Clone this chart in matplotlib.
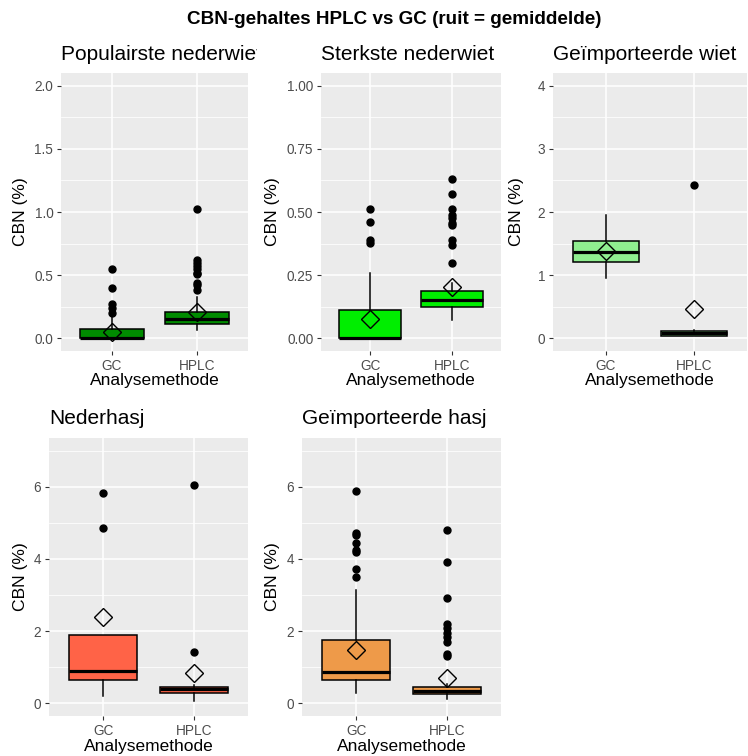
import matplotlib
matplotlib.use("Agg")
import matplotlib.pyplot as plt
from matplotlib.transforms import Bbox, TransformedBbox

plt.rcParams["font.family"] = ["Liberation Sans", "DejaVu Sans"]

# ---- data -------------------------------------------------------------
panel_titles = ["Populairste nederwiet", "Sterkste nederwiet", "Geïmporteerde wiet",
                "Nederhasj", "Geïmporteerde hasj"]
methods = ["GC", "HPLC"]
fills = ["#008B00", "#00EE00", "#90EE90", "#FF6347", "#EE9A49"]

# box statistics per panel: [GC, HPLC]
whislo = [[0.0, 0.066], [0.0, 0.072], [0.95, 0.03], [0.20, 0.07], [0.29, 0.11]]
q1 = [[0.0, 0.113], [0.0, 0.125], [1.21, 0.042], [0.66, 0.29], [0.66, 0.25]]
median = [[0.004, 0.155], [0.0, 0.151], [1.36, 0.08], [0.90, 0.39], [0.87, 0.34]]
q3 = [[0.071, 0.21], [0.112, 0.187], [1.54, 0.116], [1.88, 0.46], [1.75, 0.46]]
whishi = [[0.17, 0.33], [0.26, 0.22], [1.96, 0.13], [1.88, 0.52], [3.15, 0.55]]
mean = [[0.053, 0.21], [0.076, 0.204], [1.39, 0.46], [2.39, 0.85], [1.47, 0.69]]
outliers = [
    [[0.545, 0.40, 0.27, 0.24, 0.20],
     [1.02, 0.62, 0.60, 0.57, 0.545, 0.52, 0.51, 0.44, 0.42, 0.38]],
    [[0.51, 0.46, 0.388, 0.379],
     [0.63, 0.57, 0.51, 0.49, 0.476, 0.457, 0.45, 0.39, 0.371, 0.30]],
    [[], [2.43]],
    [[5.84, 4.85], [6.06, 1.43]],
    [[5.89, 4.71, 4.66, 4.43, 4.26, 4.20, 3.73, 3.50],
     [4.80, 3.91, 2.92, 2.21, 2.09, 1.95, 1.84, 1.70, 1.38, 1.32]],
]
y_upper = [2, 1, 4, 7, 7]
y_ticks = [[0, 0.5, 1.0, 1.5, 2.0], [0, 0.25, 0.5, 0.75, 1.0], [0, 1, 2, 3, 4],
           [0, 2, 4, 6], [0, 2, 4, 6]]
y_fmt = ["{:.1f}", "{:.2f}", "{:.0f}", "{:.0f}", "{:.0f}"]
y_minor = [[0.25, 0.75, 1.25, 1.75], [0.125, 0.375, 0.625, 0.875], [0.5, 1.5, 2.5, 3.5],
           [1, 3, 5, 7], [1, 3, 5, 7]]

# ---- layout (pixels) ----------------------------------------------------
W, H = 748, 756
fig = plt.figure(figsize=(W / 100, H / 100), dpi=100)
fig.patch.set_facecolor("white")

# panel rectangles: left, top, right, bottom
rects = [(61, 73, 248, 351), (321, 73, 501, 351), (553, 73, 747, 351),
         (49, 438, 248, 716), (302, 438, 501, 716)]
ylab_x = [20, 273, 517, 20, 273]
cell_right = [257, 506, 748, 257, 506]


def fx(x):
    return x / W


def fy(y):
    return 1 - y / H


fig.text(fx(394), fy(20), "CBN-gehaltes HPLC vs GC (ruit = gemiddelde)",
         ha="center", va="center", fontsize=13.6, fontweight="bold")

for i, (l, t, r, b) in enumerate(rects):
    ax = fig.add_axes([fx(l), fy(b), (r - l) / W, (b - t) / H])
    ax.set_facecolor("#EBEBEB")
    for s in ax.spines.values():
        s.set_visible(False)

    stats = []
    for j in range(2):
        stats.append(dict(med=median[i][j], q1=q1[i][j], q3=q3[i][j],
                          whislo=whislo[i][j], whishi=whishi[i][j],
                          fliers=outliers[i][j], label=methods[j]))
    bp = ax.bxp(stats, positions=[1, 2], widths=0.75, patch_artist=True,
                showcaps=False, showfliers=True,
                boxprops=dict(facecolor=fills[i], edgecolor="black", linewidth=1.1),
                medianprops=dict(color="black", linewidth=2.3, solid_capstyle="butt"),
                whiskerprops=dict(color="black", linewidth=1.1),
                flierprops=dict(marker="o", markerfacecolor="black",
                                markeredgecolor="black", markersize=5))
    for k in range(2):
        bp["medians"][k].set_zorder(4)
    ax.plot([1, 2], mean[i], linestyle="none", marker="D", markersize=9.5,
            markerfacecolor="none", markeredgecolor="black", markeredgewidth=1.0,
            zorder=5)

    ymax = y_upper[i]
    ax.set_ylim(-0.05 * ymax, 1.05 * ymax)
    ax.set_xlim(0.4, 2.6)
    ax.set_yticks(y_ticks[i])
    ax.set_yticklabels([y_fmt[i].format(v) for v in y_ticks[i]])
    ax.set_yticks(y_minor[i], minor=True)
    ax.set_xticks([1, 2])
    ax.set_xticklabels(methods)
    ax.tick_params(axis="both", which="major", length=3, width=0.8, color="#333333",
                   labelcolor="#4D4D4D", labelsize=9.8, pad=2.5)
    ax.tick_params(axis="y", which="minor", length=0)
    ax.grid(True, which="major", color="white", linewidth=1.1)
    ax.grid(True, which="minor", axis="y", color="white", linewidth=0.55)
    ax.set_axisbelow(True)

    # panel title, clipped to its cell
    title_y = 60 if t < 200 else 424
    txt = fig.text(fx(l), fy(title_y), panel_titles[i], ha="left", va="baseline",
                   fontsize=15)
    txt.set_clip_box(TransformedBbox(Bbox.from_extents(0, 0, fx(cell_right[i]), 1),
                                     fig.transFigure))
    txt.set_clip_on(True)

    fig.text(fx(ylab_x[i]), fy((t + b) / 2), "CBN (%)", rotation=90,
             ha="center", va="center", fontsize=12.6)
    fig.text(fx((l + r) / 2), fy(b + 30), "Analysemethode",
             ha="center", va="center", fontsize=12.5)

fig.savefig("out.png", dpi=100, facecolor="white")
